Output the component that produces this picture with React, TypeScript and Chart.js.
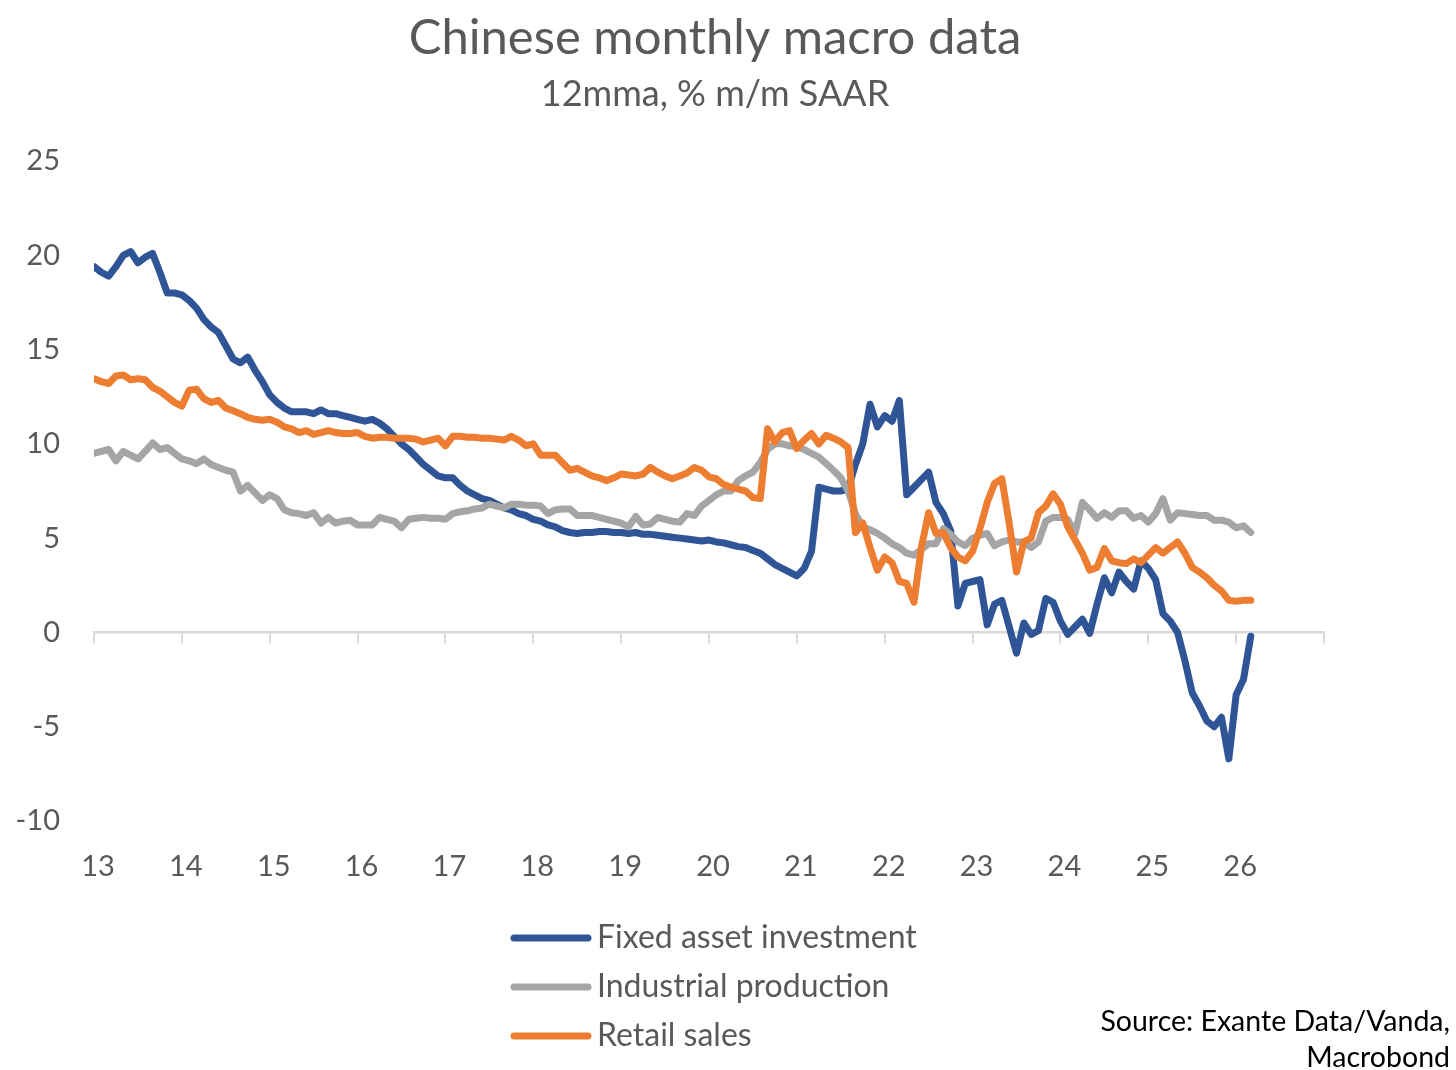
import React, { useEffect, useRef } from "react";
import { Chart, registerables } from "chart.js";

Chart.register(...registerables);

// Monthly observations, Jan 2013 .. Mar 2026 (index 0 = Jan 2013)
const fixedAssetInvestment = [
  19.4, 19.1, 18.9, 19.4, 20.0, 20.2, 19.6, 19.9, 20.1, 19.1, 18.0, 18.0,
  17.9, 17.6, 17.2, 16.6, 16.2, 15.9, 15.2, 14.5, 14.3, 14.6, 13.9, 13.3,
  12.6, 12.2, 11.9, 11.7, 11.7, 11.7, 11.6, 11.8, 11.6, 11.6, 11.5, 11.4,
  11.3, 11.2, 11.3, 11.1, 10.8, 10.4, 10.0, 9.7, 9.3, 8.9, 8.6, 8.3,
  8.2, 8.2, 7.8, 7.5, 7.3, 7.1, 7.0, 6.8, 6.6, 6.5, 6.3, 6.2,
  6.0, 5.9, 5.7, 5.6, 5.4, 5.3, 5.25, 5.3, 5.3, 5.35, 5.35, 5.3,
  5.3, 5.25, 5.3, 5.2, 5.2, 5.15, 5.1, 5.05, 5.0, 4.95, 4.9, 4.85,
  4.9, 4.8, 4.75, 4.65, 4.55, 4.5, 4.35, 4.2, 3.9, 3.6, 3.4, 3.2,
  3.0, 3.4, 4.3, 7.7, 7.6, 7.5, 7.5, 7.6, 8.9, 10.0, 12.1, 10.9,
  11.5, 11.2, 12.3, 7.3, 7.7, 8.1, 8.5, 6.9, 6.3, 5.4, 1.4, 2.6,
  2.7, 2.8, 0.4, 1.5, 1.7, 0.3, -1.1, 0.5, -0.1, 0.1, 1.8, 1.6,
  0.6, -0.1, 0.3, 0.7, -0.05, 1.5, 2.9, 2.1, 3.2, 2.7, 2.3, 3.8,
  3.4, 2.8, 1.0, 0.6, 0.0, -1.5, -3.2, -3.9, -4.7, -5.0, -4.5, -6.7,
  -3.3, -2.5, -0.2,
];

const industrialProduction = [
  9.5, 9.6, 9.7, 9.1, 9.6, 9.4, 9.2, 9.6, 10.05, 9.7, 9.8, 9.5,
  9.2, 9.1, 8.95, 9.2, 8.9, 8.75, 8.6, 8.5, 7.5, 7.8, 7.4, 7.0,
  7.3, 7.1, 6.5, 6.35, 6.3, 6.2, 6.35, 5.8, 6.1, 5.8, 5.9, 5.95,
  5.7, 5.7, 5.7, 6.1, 6.0, 5.9, 5.55, 6.0, 6.05, 6.1, 6.05, 6.05,
  6.0, 6.3, 6.4, 6.45, 6.55, 6.6, 6.8, 6.7, 6.6, 6.8, 6.8, 6.75,
  6.75, 6.7, 6.3, 6.5, 6.55, 6.55, 6.2, 6.2, 6.2, 6.1, 6.0, 5.9,
  5.8, 5.6, 6.15, 5.7, 5.75, 6.1, 6.0, 5.9, 5.85, 6.3, 6.2, 6.7,
  7.0, 7.3, 7.5, 7.5, 8.05, 8.3, 8.5, 9.0, 9.7, 10.0, 10.0, 9.9,
  9.85, 9.7, 9.5, 9.3, 8.95, 8.6, 8.2, 7.5, 6.3, 5.6, 5.45, 5.25,
  5.0, 4.7, 4.5, 4.2, 4.1, 4.4, 4.7, 4.7, 5.5, 5.2, 4.8, 4.6,
  5.0, 5.15, 5.25, 4.6, 4.8, 4.9, 4.8, 4.8, 4.5, 4.8, 5.9, 6.1,
  6.1, 6.0, 5.25, 6.9, 6.5, 6.05, 6.35, 6.1, 6.45, 6.45, 6.05, 6.2,
  5.85, 6.3, 7.1, 5.95, 6.35, 6.3, 6.25, 6.2, 6.2, 5.95, 5.95, 5.85,
  5.55, 5.65, 5.3,
];

const retailSales = [
  13.45, 13.3, 13.2, 13.6, 13.65, 13.4, 13.45, 13.4, 13.0, 12.8, 12.5, 12.2,
  12.0, 12.85, 12.9, 12.4, 12.2, 12.3, 11.9, 11.75, 11.6, 11.4, 11.3, 11.25,
  11.3, 11.15, 10.9, 10.8, 10.6, 10.7, 10.5, 10.6, 10.7, 10.6, 10.55, 10.55,
  10.6, 10.4, 10.3, 10.35, 10.35, 10.3, 10.3, 10.3, 10.25, 10.1, 10.2, 10.3,
  9.9, 10.4, 10.4, 10.35, 10.35, 10.3, 10.3, 10.25, 10.2, 10.4, 10.2, 9.9,
  10.0, 9.4, 9.4, 9.4, 9.0, 8.6, 8.7, 8.5, 8.3, 8.2, 8.05, 8.2,
  8.4, 8.35, 8.3, 8.4, 8.75, 8.5, 8.3, 8.15, 8.3, 8.45, 8.75, 8.6,
  8.25, 8.15, 7.85, 7.7, 7.6, 7.5, 7.15, 7.1, 10.8, 10.1, 10.6, 10.7,
  9.75, 10.2, 10.55, 10.0, 10.45, 10.3, 10.1, 9.8, 5.3, 5.8, 4.5, 3.3,
  4.0, 3.7, 2.7, 2.6, 1.6, 4.5, 6.35, 5.25, 5.3, 4.5, 4.0, 3.8,
  4.3, 5.5, 6.9, 7.9, 8.15, 5.8, 3.2, 4.8, 5.0, 6.35, 6.7, 7.35,
  6.8, 5.6, 4.9, 4.2, 3.3, 3.45, 4.45, 3.8, 3.7, 3.65, 3.9, 3.7,
  4.1, 4.5, 4.2, 4.5, 4.8, 4.2, 3.45, 3.2, 2.9, 2.5, 2.2, 1.7,
  1.65, 1.7, 1.7,
];

const seriesNames = ["Fixed asset investment", "Industrial production", "Retail sales"];
const seriesColors = ["#2F5597", "#A5A5A5", "#ED7D31"];
const yearTickLabels = ["13", "14", "15", "16", "17", "18", "19", "20", "21", "22", "23", "24", "25", "26"];
const titleText = "Chinese monthly macro data";
const subtitleText = "12mma, % m/m SAAR";
const sourceLines = ["Source: Exante Data/Vanda,", "Macrobond"];

const FONT = 'Lato, "Open Sans", sans-serif';
const TEXT = "#595959";
const AXIS_LINE = "#D9D9D9";

const overlayPlugin = {
  id: "overlay",
  afterDraw(chart: any) {
    const ctx = chart.ctx;
    ctx.save();
    // legend (vertical)
    chart.data.datasets.forEach((ds: any, i: number) => {
      const y = 938 + i * 49;
      ctx.strokeStyle = ds.borderColor;
      ctx.lineWidth = 7;
      ctx.lineCap = "round";
      ctx.beginPath();
      ctx.moveTo(514, y);
      ctx.lineTo(588, y);
      ctx.stroke();
      ctx.fillStyle = TEXT;
      ctx.font = `32px ${FONT}`;
      ctx.textAlign = "left";
      ctx.textBaseline = "middle";
      ctx.fillText(ds.label, 597, y);
    });
    // source
    ctx.fillStyle = "#000000";
    ctx.font = `28.5px ${FONT}`;
    ctx.textAlign = "right";
    ctx.textBaseline = "middle";
    sourceLines.forEach((s, i) => ctx.fillText(s, 1450, 1022 + i * 36));
    ctx.restore();
  },
};

export default function App() {
  const ref = useRef<HTMLCanvasElement | null>(null);

  useEffect(() => {
    if (!ref.current) return;
    const toPoints = (arr: number[]) => arr.map((v, i) => ({ x: i, y: v }));
    const allSeries = [fixedAssetInvestment, industrialProduction, retailSales];
    const xMax = yearTickLabels.length * 12;
    const chart = new Chart(ref.current, {
      type: "line",
      data: {
        datasets: allSeries.map((arr, i) => ({
          label: seriesNames[i],
          data: toPoints(arr),
          borderColor: seriesColors[i],
          backgroundColor: seriesColors[i],
          borderWidth: 7,
          pointRadius: 0,
          tension: 0,
          borderJoinStyle: "round" as const,
          borderCapStyle: "round" as const,
          order: 2 - i,
        })),
      },
      options: {
        responsive: false,
        animation: false,
        devicePixelRatio: 1,
        layout: { padding: { left: 0, right: 26, top: 0, bottom: 0 } },
        plugins: {
          legend: { display: false },
          tooltip: { enabled: false },
          title: {
            display: true,
            text: titleText,
            color: TEXT,
            font: { family: FONT, size: 49, weight: "normal" },
            padding: { top: 9, bottom: 0 },
          },
          subtitle: {
            display: true,
            text: subtitleText,
            color: TEXT,
            font: { family: FONT, size: 36, weight: "normal" },
            padding: { top: 5, bottom: 45 },
          },
        },
        scales: {
          x: {
            type: "linear",
            position: "bottom",
            min: 0,
            max: xMax,
            grid: { display: false, drawTicks: false },
            border: { display: false },
            ticks: {
              stepSize: 12,
              autoSkip: false,
              maxRotation: 0,
              padding: 28,
              labelOffset: 4,
              color: TEXT,
              font: { family: FONT, size: 29 },
              callback: (v: any) => {
                const idx = Math.round(Number(v) / 12);
                return yearTickLabels[idx] ?? "";
              },
            },
            afterFit: (scale: any) => {
              scale.height = 249;
            },
          },
          x2: {
            type: "linear",
            axis: "x",
            position: { y: 0 },
            min: 0,
            max: xMax,
            grid: {
              drawOnChartArea: false,
              drawTicks: true,
              tickLength: 10,
              tickColor: AXIS_LINE,
              lineWidth: 2,
            },
            border: { display: true, color: AXIS_LINE, width: 2.5 },
            ticks: { display: false, stepSize: 12, autoSkip: false },
          },
          y: {
            type: "linear",
            min: -10,
            max: 25,
            grid: { display: false, drawTicks: false },
            border: { display: false },
            ticks: {
              stepSize: 5,
              padding: 34,
              color: TEXT,
              font: { family: FONT, size: 29 },
            },
            afterFit: (scale: any) => {
              scale.width = 94;
            },
          },
          yRight: {
            type: "linear",
            position: "right",
            min: -10,
            max: 25,
            grid: { display: false, drawTicks: false },
            border: { display: false },
            ticks: { display: false },
            afterFit: (scale: any) => {
              scale.width = 106;
            },
          },
        },
      } as any,
      plugins: [overlayPlugin],
    });
    return () => chart.destroy();
  }, []);

  return (
    <div style={{ position: "absolute", left: 0, top: 0, width: 1456, height: 1070, background: "#fff" }}>
      <canvas ref={ref} width={1456} height={1070} style={{ display: "block", width: 1456, height: 1070 }} />
    </div>
  );
}
